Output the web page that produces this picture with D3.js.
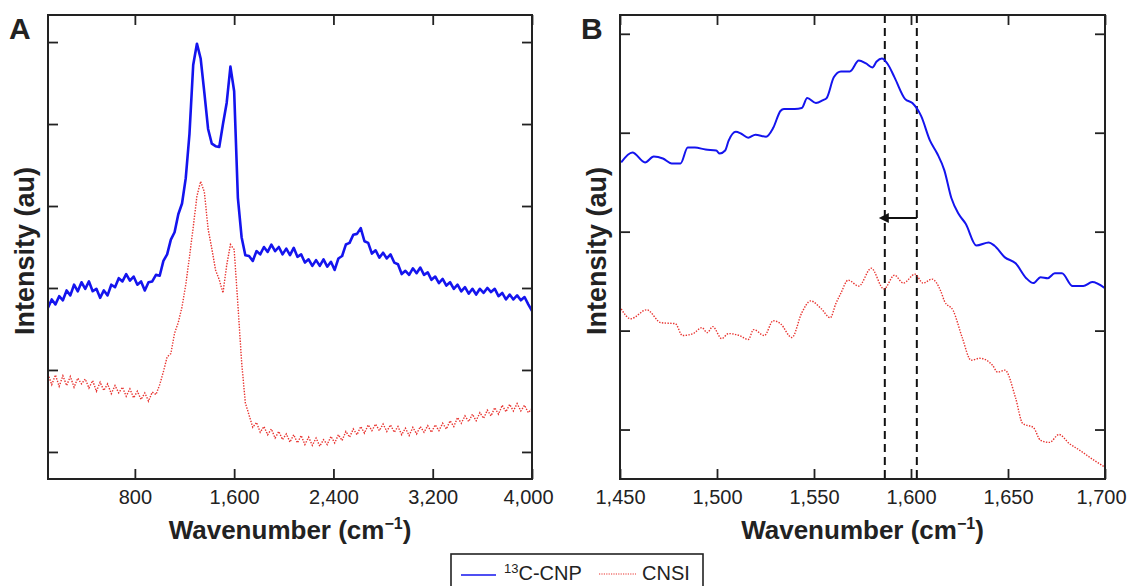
<!DOCTYPE html>
<html>
<head>
<meta charset="utf-8">
<script src="https://cdn.jsdelivr.net/npm/d3@7"></script>
<style>
	body { margin: 0; background: #fff; }
	text { font-family: "Liberation Sans", Arial, sans-serif; fill: #222; }
</style>
</head>
<body>
<div id="graph"></div>
<script>
// panel A: full spectrum, wavenumber in cm-1, intensity in arbitrary units
let waveA = [
	100, 130, 160, 190, 220, 250, 280, 310, 340, 370, 400, 430, 460, 490, 520, 550, 580, 610, 640, 670,
	700, 730, 760, 790, 820, 850, 880, 910, 940, 970, 1000, 1030, 1060, 1090, 1120, 1150, 1180, 1210, 1240, 1270,
	1300, 1330, 1360, 1390, 1420, 1450, 1480, 1510, 1540, 1570, 1600, 1630, 1660, 1690, 1720, 1750, 1780, 1810, 1840, 1870,
	1900, 1930, 1960, 1990, 2020, 2050, 2080, 2110, 2140, 2170, 2200, 2230, 2260, 2290, 2320, 2350, 2380, 2410, 2440, 2470,
	2500, 2530, 2560, 2590, 2620, 2650, 2680, 2710, 2740, 2770, 2800, 2830, 2860, 2890, 2920, 2950, 2980, 3010, 3040, 3070,
	3100, 3130, 3160, 3190, 3220, 3250, 3280, 3310, 3340, 3370, 3400, 3430, 3460, 3490, 3520, 3550, 3580, 3610, 3640, 3670,
	3700, 3730, 3760, 3790, 3820, 3850, 3880, 3910, 3940, 3970, 4000
];
let cnpA = [
	1.76, 1.86, 1.80, 1.90, 1.85, 1.97, 1.91, 2.04, 1.96, 2.07, 1.99, 2.08, 1.96, 1.99, 1.88, 1.97, 1.91, 2.04, 2.01, 2.12,
	2.08, 2.17, 2.09, 2.14, 2.04, 2.08, 1.97, 2.07, 2.08, 2.16, 2.15, 2.33, 2.41, 2.59, 2.68, 2.90, 3.03, 3.34, 3.88, 4.72,
	4.98, 4.80, 4.38, 3.94, 3.76, 3.73, 3.72, 4.00, 4.26, 4.70, 4.40, 3.10, 2.62, 2.40, 2.39, 2.33, 2.45, 2.41, 2.50, 2.44,
	2.53, 2.45, 2.50, 2.41, 2.48, 2.40, 2.49, 2.38, 2.41, 2.31, 2.35, 2.27, 2.34, 2.27, 2.35, 2.26, 2.32, 2.22, 2.36, 2.39,
	2.53, 2.55, 2.65, 2.66, 2.73, 2.57, 2.55, 2.42, 2.46, 2.37, 2.43, 2.36, 2.41, 2.31, 2.29, 2.17, 2.21, 2.16, 2.24, 2.18,
	2.25, 2.16, 2.19, 2.10, 2.14, 2.06, 2.11, 2.03, 2.07, 1.99, 2.04, 1.96, 2.01, 1.93, 1.99, 1.92, 1.99, 1.94, 2.00, 1.95,
	1.99, 1.90, 1.94, 1.86, 1.92, 1.86, 1.91, 1.85, 1.89, 1.80, 1.72
];
let cnsiA = [
	0.95, 0.82, 0.94, 0.80, 0.93, 0.81, 0.92, 0.79, 0.90, 0.83, 0.89, 0.78, 0.87, 0.74, 0.85, 0.75, 0.83, 0.71, 0.81, 0.72,
	0.79, 0.68, 0.77, 0.66, 0.74, 0.64, 0.72, 0.62, 0.73, 0.70, 0.82, 0.98, 1.16, 1.20, 1.45, 1.58, 1.77, 2.04, 2.38, 2.74,
	3.12, 3.30, 3.17, 2.72, 2.48, 2.22, 2.10, 1.94, 2.28, 2.53, 2.47, 1.80, 1.10, 0.60, 0.45, 0.30, 0.36, 0.24, 0.31, 0.21,
	0.28, 0.17, 0.25, 0.15, 0.22, 0.12, 0.21, 0.11, 0.20, 0.09, 0.18, 0.08, 0.17, 0.07, 0.15, 0.09, 0.19, 0.11, 0.21, 0.14,
	0.25, 0.18, 0.28, 0.21, 0.31, 0.23, 0.33, 0.26, 0.34, 0.26, 0.34, 0.25, 0.33, 0.24, 0.31, 0.21, 0.29, 0.20, 0.30, 0.22,
	0.31, 0.24, 0.32, 0.24, 0.33, 0.26, 0.35, 0.28, 0.38, 0.31, 0.42, 0.35, 0.44, 0.37, 0.46, 0.38, 0.48, 0.41, 0.51, 0.44,
	0.54, 0.46, 0.57, 0.49, 0.58, 0.50, 0.59, 0.50, 0.57, 0.48, 0.53
];

// panel B: zoom on the G band
let waveCnpB = [
	1450.6, 1456.4, 1462.9, 1467.4, 1472.1, 1476.6, 1481.2, 1484.9, 1488.6, 1494.1, 1499.6, 1501.4, 1504.2, 1506.0, 1509.7, 1512.5,
	1516.1, 1519.8, 1525.3, 1529.0, 1532.7, 1534.5, 1540.0, 1543.7, 1546.5, 1551.0, 1554.7, 1556.5, 1560.2, 1563.9, 1568.5, 1573.1,
	1576.8, 1580.1, 1582.3, 1585.0, 1587.8, 1591.5, 1597.0, 1600.7, 1605.2, 1609.8, 1613.5, 1617.2, 1620.8, 1624.5, 1628.2, 1633.7,
	1640.1, 1642.9, 1648.4, 1653.9, 1659.4, 1663.1, 1666.8, 1670.5, 1674.1, 1677.8, 1683.3, 1688.8, 1693.4, 1699.8
];
let cnpB = [
	2.70, 2.80, 2.70, 2.76, 2.74, 2.69, 2.69, 2.85, 2.85, 2.83, 2.82, 2.79, 2.82, 2.92, 3.01, 2.99,
	2.95, 2.98, 2.96, 3.05, 3.22, 3.24, 3.24, 3.25, 3.35, 3.30, 3.33, 3.35, 3.56, 3.62, 3.62, 3.73,
	3.70, 3.66, 3.72, 3.75, 3.70, 3.56, 3.34, 3.30, 3.17, 2.92, 2.79, 2.62, 2.34, 2.18, 2.08, 1.86,
	1.89, 1.86, 1.74, 1.68, 1.53, 1.48, 1.54, 1.53, 1.58, 1.58, 1.45, 1.45, 1.49, 1.43
];
let waveCnsiB = [
	1450.6, 1455.5, 1463.8, 1471.1, 1478.5, 1482.2, 1487.7, 1492.2, 1495.0, 1497.8, 1502.4, 1506.0, 1511.5, 1516.1, 1518.9, 1524.4,
	1529.0, 1532.7, 1538.6, 1543.7, 1548.3, 1553.8, 1558.4, 1561.2, 1563.9, 1567.6, 1573.1, 1579.5, 1586.0, 1591.5, 1596.0, 1602.1,
	1606.2, 1610.8, 1615.3, 1617.2, 1621.8, 1626.4, 1631.0, 1635.5, 1642.0, 1644.7, 1648.4, 1653.9, 1657.6, 1663.1, 1666.8, 1671.4,
	1676.3, 1681.5, 1687.0, 1694.3, 1699.9
];
let cnsiB = [
	1.22, 1.12, 1.21, 1.08, 1.07, 0.95, 0.97, 1.03, 0.98, 1.04, 0.92, 0.97, 0.95, 0.91, 1.01, 0.95,
	1.10, 1.07, 0.93, 1.18, 1.30, 1.22, 1.13, 1.27, 1.38, 1.51, 1.45, 1.63, 1.42, 1.56, 1.48, 1.57,
	1.48, 1.52, 1.40, 1.30, 1.20, 0.93, 0.70, 0.72, 0.65, 0.58, 0.60, 0.32, 0.06, 0.02, -0.11, -0.13,
	-0.05, -0.14, -0.21, -0.31, -0.38
];

let ticksA = [800, 1600, 2400, 3200, 4000];
let ticksB = [1450, 1500, 1550, 1600, 1650, 1700];
let shiftLines = [1586.5, 1603];
let seriesNames = ['13C-CNP', 'CNSI'];

let blue = '#1414ee';
let red = '#e8322e';

let svg = d3.select('#graph')
	.append('svg')
		.attr('width', 1128)
		.attr('height', 586);

let defs = svg.append('defs');
defs.append('marker')
		.attr('id', 'arrow')
		.attr('viewBox', '0 0 10 10')
		.attr('refX', 1)
		.attr('refY', 5)
		.attr('markerWidth', 6)
		.attr('markerHeight', 5)
		.attr('orient', 'auto-start-reverse')
	.append('path')
		.attr('d', 'M0,0 L10,5 L0,10 z')
		.attr('fill', '#111');

function panel(opt) {
	let x = d3.scaleLinear().domain(opt.xDomain).range([opt.left, opt.right]);
	let y = d3.scaleLinear().domain(opt.yDomain).range([opt.bottom, opt.top]);
	let g = svg.append('g');

	defs.append('clipPath')
			.attr('id', 'clip' + opt.name)
		.append('rect')
			.attr('x', opt.left)
			.attr('y', opt.top)
			.attr('width', opt.right - opt.left)
			.attr('height', opt.bottom - opt.top);

	let fmt = d3.format(',');
	let xBottom = d3.axisBottom(x).tickValues(opt.xTicks).tickSizeInner(-10).tickSizeOuter(0).tickPadding(11).tickFormat(fmt);
	let xTop = d3.axisTop(x).tickValues(opt.xTicks).tickSizeInner(-10).tickSizeOuter(0).tickFormat('');
	let yLeft = d3.axisLeft(y).tickValues(opt.yTicks).tickSizeInner(-10).tickSizeOuter(0).tickFormat('');
	let yRight = d3.axisRight(y).tickValues(opt.yTicks).tickSizeInner(-10).tickSizeOuter(0).tickFormat('');

	g.append('g').attr('transform', 'translate(0,' + opt.bottom + ')').call(xBottom);
	g.append('g').attr('transform', 'translate(0,' + opt.top + ')').call(xTop);
	g.append('g').attr('transform', 'translate(' + opt.left + ',0)').call(yLeft);
	g.append('g').attr('transform', 'translate(' + opt.right + ',0)').call(yRight);
	g.selectAll('.domain').remove();
	g.selectAll('.tick line').attr('stroke', '#222').attr('stroke-width', 1.8);
	g.selectAll('.tick text')
		.style('font-size', '20px')
		.style('font-family', '"Liberation Sans", Arial, sans-serif')
		.attr('fill', '#222')
		// the label at the right edge sits a little inward, as in the original
		.attr('dx', (d) => d === opt.xDomain[1] ? -4 : 0);

	let plot = g.append('g').attr('clip-path', 'url(#clip' + opt.name + ')');

	(opt.vlines || []).forEach((v) => {
		plot.append('line')
			.attr('x1', x(v)).attr('x2', x(v))
			.attr('y1', opt.top).attr('y2', opt.bottom)
			.attr('stroke', '#111')
			.attr('stroke-width', 2)
			.attr('stroke-dasharray', '8,5');
	});

	let line = d3.line()
		.x((d) => x(d[0]))
		.y((d) => y(d[1]))
		.curve(opt.curve);

	plot.append('path')
		.attr('d', line(d3.zip(opt.waveRed, opt.red)))
		.attr('fill', 'none')
		.attr('stroke', red)
		.attr('stroke-width', 1.4)
		.attr('stroke-dasharray', '1.4,1.4');

	plot.append('path')
		.attr('d', line(d3.zip(opt.waveBlue, opt.blue)))
		.attr('fill', 'none')
		.attr('stroke', blue)
		.attr('stroke-width', opt.blueWidth)
		.attr('stroke-linejoin', 'round');

	g.append('rect')
		.attr('x', opt.left)
		.attr('y', opt.top)
		.attr('width', opt.right - opt.left)
		.attr('height', opt.bottom - opt.top)
		.attr('fill', 'none')
		.attr('stroke', '#222')
		.attr('stroke-width', 2);

	g.append('text')
		.attr('x', opt.left - 39)
		.attr('y', 39)
		.style('font-size', '30px')
		.style('font-weight', 'bold')
		.text(opt.name);

	g.append('text')
		.attr('transform', 'translate(' + (opt.left - 14) + ',' + ((opt.top + opt.bottom) / 2 + 4) + ') rotate(-90)')
		.attr('text-anchor', 'middle')
		.style('font-size', '27px')
		.style('font-weight', 'bold')
		.text('Intensity (au)');

	let xl = g.append('text')
		.attr('x', (opt.left + opt.right) / 2)
		.attr('y', 539)
		.attr('text-anchor', 'middle')
		.style('font-size', '26px')
		.style('font-weight', 'bold');
	xl.append('tspan').text('Wavenumber (cm');
	xl.append('tspan').attr('dy', -10).style('font-size', '16px').text('\u22121');
	xl.append('tspan').attr('dy', 10).text(')');

	return { x: x, y: y, g: g };
}

panel({
	name: 'A',
	left: 48, right: 532, top: 15, bottom: 479,
	xDomain: [100, 4000], yDomain: [-0.33, 5.33],
	xTicks: ticksA, yTicks: [0, 1, 2, 3, 4, 5],
	waveBlue: waveA, blue: cnpA, waveRed: waveA, red: cnsiA,
	blueWidth: 2.6,
	curve: d3.curveLinear
});

let pB = panel({
	name: 'B',
	left: 620, right: 1105, top: 15, bottom: 479,
	xDomain: [1450, 1700], yDomain: [-0.5, 4.19],
	xTicks: ticksB, yTicks: [0, 1, 2, 3, 4],
	waveBlue: waveCnpB, blue: cnpB, waveRed: waveCnsiB, red: cnsiB,
	blueWidth: 2,
	curve: d3.curveMonotoneX,
	vlines: shiftLines
});

// shift arrow between the two G band positions
pB.g.append('line')
	.attr('x1', pB.x(shiftLines[1]))
	.attr('x2', pB.x(shiftLines[0]) + 3)
	.attr('y1', 218)
	.attr('y2', 218)
	.attr('stroke', '#111')
	.attr('stroke-width', 2)
	.attr('marker-end', 'url(#arrow)');

// legend
let legend = svg.append('g');
legend.append('rect')
	.attr('x', 451)
	.attr('y', 554)
	.attr('width', 252)
	.attr('height', 40)
	.attr('fill', '#fff')
	.attr('stroke', '#222')
	.attr('stroke-width', 1.6);

legend.append('line')
	.attr('x1', 461).attr('x2', 496)
	.attr('y1', 575).attr('y2', 575)
	.attr('stroke', blue)
	.attr('stroke-width', 1.6);

let l1 = legend.append('text')
	.attr('x', 504)
	.attr('y', 580)
	.style('font-size', '20px');
l1.append('tspan').attr('dy', -7).style('font-size', '13px').text(seriesNames[0].slice(0, 2));
l1.append('tspan').attr('dy', 7).text(seriesNames[0].slice(2));

legend.append('line')
	.attr('x1', 599).attr('x2', 636)
	.attr('y1', 574).attr('y2', 574)
	.attr('stroke', red)
	.attr('stroke-width', 1.2)
	.attr('stroke-dasharray', '1.2,1.2');

legend.append('text')
	.attr('x', 642)
	.attr('y', 580)
	.style('font-size', '20px')
	.text(seriesNames[1]);
</script>
</body>
</html>
